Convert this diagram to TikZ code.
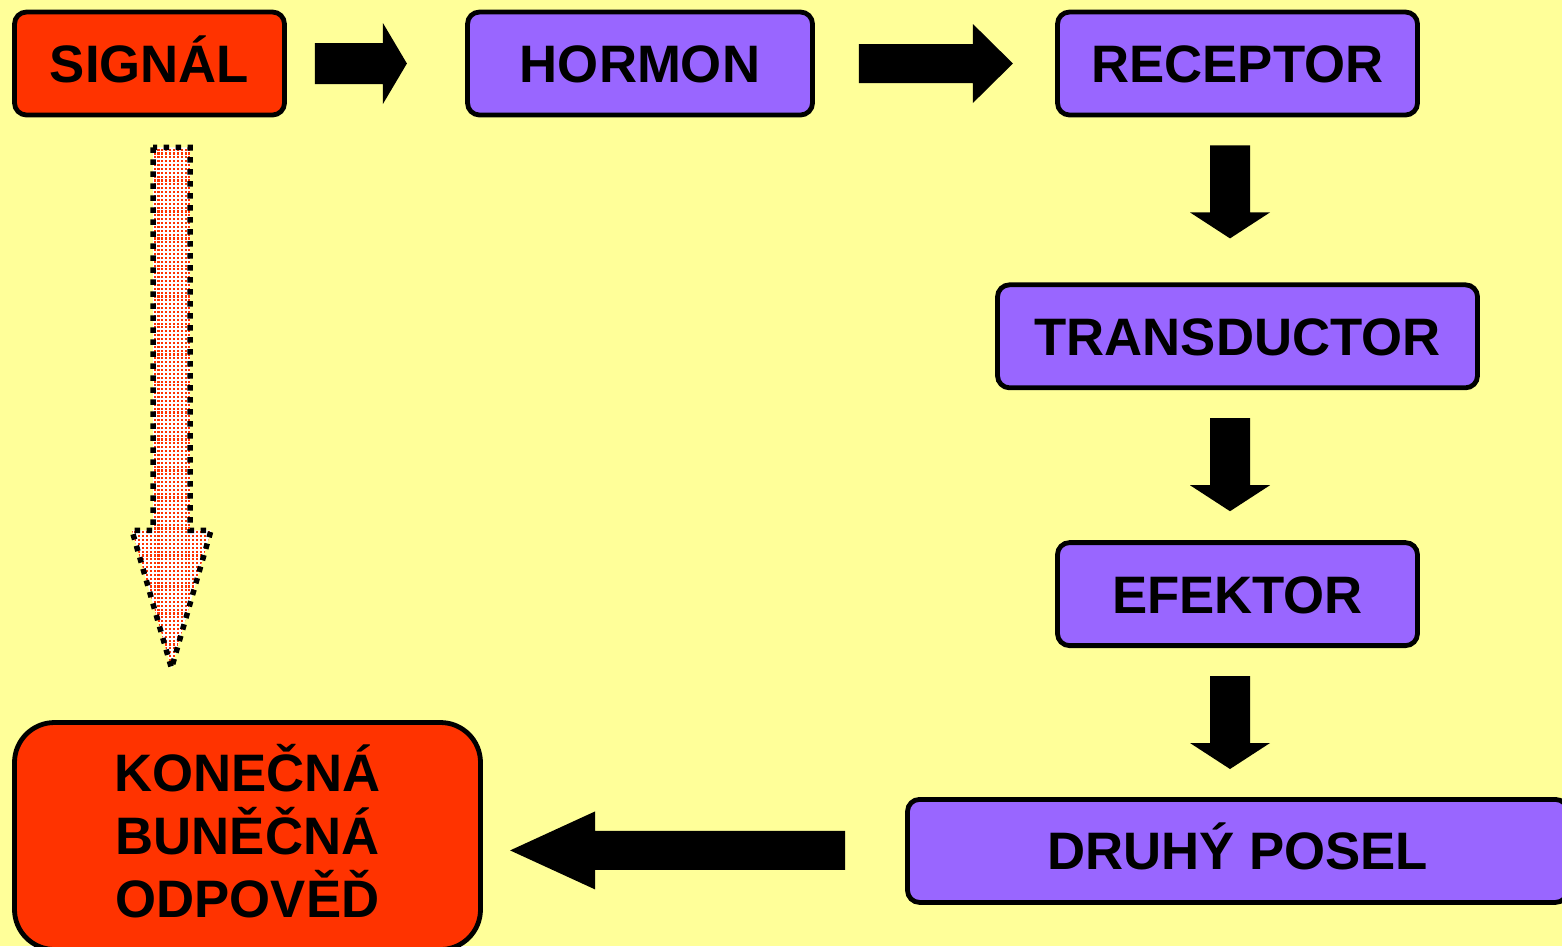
\documentclass[tikz,border=0pt]{standalone}
\usepackage{fontspec}
\setmainfont{Liberation Sans}
\usetikzlibrary{positioning, calc, patterns}
\definecolor{bgyellow}{HTML}{FFFF99}
\definecolor{sigred}{HTML}{FF3300}
\definecolor{hormviolet}{HTML}{9966FF}
\pgfdeclarepatternformonly{reddots}{\pgfqpoint{-0.6pt}{-0.6pt}}{\pgfqpoint{0.6pt}{0.6pt}}{\pgfqpoint{1.1pt}{1.1pt}}{%
  \pgfpathrectangle{\pgfqpoint{-0.3pt}{-0.3pt}}{\pgfqpoint{0.6pt}{0.6pt}}\pgfusepath{fill}}
% block arrow: [style]{tail}{angle}{length}{half shaft}{half head}{head length}
\newcommand{\BlockArrow}[7][fill=black]{%
  \path[#1, shift={#2}, rotate=#3]
    (0,-#5) -- (#4-#7,-#5) -- (#4-#7,-#6) -- (#4,0) -- (#4-#7,#6) -- (#4-#7,#5) -- (0,#5) -- cycle;}
\tikzset{
    box/.style={draw, line width=0.048cm, rounded corners=0.12cm, minimum height=1.03cm,
      inner sep=0pt, font=\fontsize{15}{18}\selectfont\bfseries, text height=10.8pt, text depth=0pt},
    redbox/.style={box, fill=sigred},
    violetbox/.style={box, fill=hormviolet},
    dotarrow/.style={draw=black, line width=0.055cm, dash pattern=on 0.055cm off 0.065cm,
      preaction={fill=white}, pattern=reddots, pattern color=sigred},
}
\begin{document}
\begin{tikzpicture}
    \fill[bgyellow] (0,0) rectangle (15.62,-9.46);
    \useasboundingbox (0,0) rectangle (15.62,-9.46);

    \node[redbox, minimum width=2.70cm] (sig) at (1.495,-0.635) {SIGNÁL};
    \node[violetbox, minimum width=3.45cm] (hor) at (6.40,-0.635) {HORMON};
    \node[violetbox, minimum width=3.60cm] (rec) at (12.375,-0.635) {RECEPTOR};
    \node[violetbox, minimum width=4.80cm, below=1.65cm of rec] (tra) {TRANSDUCTOR};
    \node[violetbox, minimum width=3.60cm, below=1.50cm of tra] (efe) {EFEKTOR};
    \node[violetbox, minimum width=6.60cm, below=1.49cm of efe] (dru) {DRUHÝ POSEL};
    \node[redbox, rounded corners=0.4cm, minimum width=4.66cm, minimum height=2.27cm,
      align=center, text height=46.6pt] (kon) at (2.475,-8.36) {KONEČNÁ\\BUNĚČNÁ\\ODPOVĚĎ};

    \BlockArrow{($(sig.east)+(0.28,0)$)}{0}{0.92}{0.205}{0.405}{0.24}
    \BlockArrow{($(hor.east)+(0.44,0)$)}{0}{1.54}{0.195}{0.395}{0.40}
    \BlockArrow{($(rec.south)+(-0.075,-0.28)$)}{-90}{0.93}{0.20}{0.40}{0.26}
    \BlockArrow{($(tra.south)+(-0.075,-0.28)$)}{-90}{0.93}{0.20}{0.40}{0.26}
    \BlockArrow{($(efe.south)+(-0.075,-0.28)$)}{-90}{0.93}{0.20}{0.40}{0.26}
    \BlockArrow{($(dru.west)+(-0.60,0.005)$)}{180}{3.35}{0.195}{0.39}{0.85}
    \BlockArrow[dotarrow]{($(sig.south)+(0.22,-0.30)$)}{-90}{5.21}{0.185}{0.395}{1.38}
\end{tikzpicture}
\end{document}
